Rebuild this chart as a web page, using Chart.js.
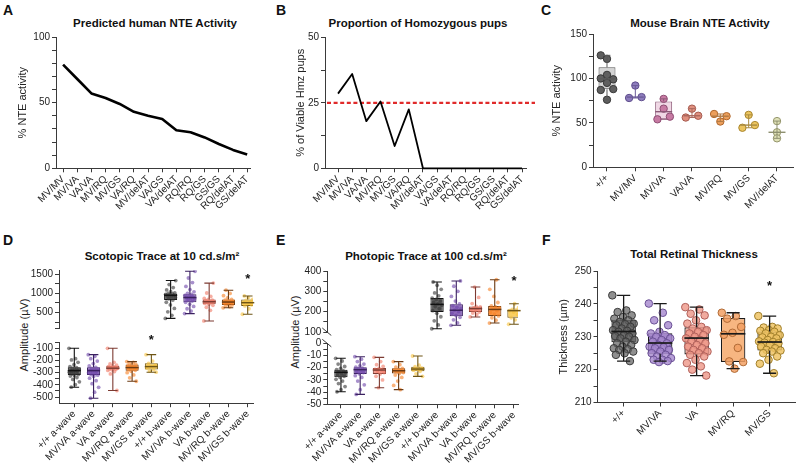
<!DOCTYPE html>
<html>
<head>
<meta charset="utf-8">
<script src="https://cdn.jsdelivr.net/npm/chart.js@4.4.1/dist/chart.umd.min.js"></script>
<style>
  body { margin: 0; background: #fff; font-family: "Liberation Sans", Arial, Helvetica, sans-serif; color: #111; }
  #fig { position: relative; width: 800px; height: 467px; overflow: hidden; }
  #fig canvas { position: absolute; }
  .lt { position: absolute; font-weight: bold; font-size: 14px; line-height: 14px; }
  .tt { position: absolute; font-weight: bold; font-size: 11.5px; line-height: 11.5px; white-space: nowrap; transform: translateX(-50%); }
  .yt { position: absolute; font-size: 11px; white-space: nowrap; transform: translate(-50%, -50%) rotate(-90deg); color: #222; }
</style>
</head>
<body>
<div id="fig">
  <div class="lt" style="left:3px;top:3px">A</div>
  <div class="lt" style="left:276px;top:3px">B</div>
  <div class="lt" style="left:541px;top:3px">C</div>
  <div class="lt" style="left:3px;top:233px">D</div>
  <div class="lt" style="left:276px;top:233px">E</div>
  <div class="lt" style="left:542px;top:233px">F</div>

  <div class="tt" style="left:155px;top:18px">Predicted human NTE Activity</div>
  <div class="tt" style="left:418px;top:18px">Proportion of Homozygous pups</div>
  <div class="tt" style="left:700px;top:18px">Mouse Brain NTE Activity</div>
  <div class="tt" style="left:162px;top:251px">Scotopic Trace at 10 cd.s/m²</div>
  <div class="tt" style="left:426px;top:251px">Photopic Trace at 100 cd.s/m²</div>
  <div class="tt" style="left:694px;top:249px">Total Retinal Thickness</div>

  <div class="yt" style="left:24px;top:335px">Amplitude (µV)</div>
  <div class="yt" style="left:295px;top:332px">Amplitude (µV)</div>
</div>

<script>
// ---------------- data ----------------
var genotypes = ['MV/MV', 'MV/VA', 'VA/VA', 'MV/RQ', 'MV/GS', 'VA/RQ', 'MV/delAT', 'VA/GS', 'VA/delAT', 'RQ/RQ', 'RQ/GS', 'GS/GS', 'RQ/delAT', 'GS/delAT'];
var humanNte = [79, 68, 57, 53.5, 49, 43, 40, 37.5, 29, 27.5, 23.5, 18.5, 14, 10.5];
var hmzPups = [28.5, 36, 18, 25.5, 8.5, 22.5, 0, 0, 0, 0, 0, 0, 0, 0];
var hmzExpected = 25;

var brainGroups = ['+/+', 'MV/MV', 'MV/VA', 'VA/VA', 'MV/RQ', 'MV/GS', 'MV/delAT'];
// [min, q1, median, q3, max]
var brainBox = [[76, 87.7, 99.5, 112.5, 126], [78, 79, 79, 79, 92], [54, 54, 62.6, 74, 77], [56, 58, 58, 58, 66],
  [51.5, 57.5, 57.5, 57.5, 60], [44.5, 47.5, 47.5, 47.5, 59], [32.6, 39.4, 39.4, 39.4, 52]];
var brainPts = [
  [126, 122, 99, 104, 100, 88, 95, 87, 76],
  [78, 92, 79],
  [54, 77, 57, 66],
  [56, 66, 58],
  [60, 51.5, 57.5],
  [44.5, 59, 47.5],
  [52, 39.4, 32.6]
];

var ergGroups = ['+/+ a-wave', 'MV/VA a-wave', 'VA a-wave', 'MV/RQ a-wave', 'MV/GS a-wave',
  '+/+ b-wave', 'MV/VA b-wave', 'VA b-wave', 'MV/RQ b-wave', 'MV/GS b-wave'];

var scotABox = [[-419, -318, -283, -255, -100], [-509, -318, -283, -255, -152], [-446, -274, -263, -244, -100],
  [-370, -283, -258, -233, -209], [-296, -274, -250, -223, -152]];
var scotBBox = [[350, 825, 950, 1000, 1333], [475, 767, 892, 975, 1575], [283, 717, 783, 842, 1267],
  [625, 700, 775, 842, 1083], [458, 675, 758, 842, 933]];
var scotAPts = [
  [-100, -185, -195, -215, -235, -250, -258, -265, -272, -278, -283, -287, -292, -297, -303, -309, -315, -321, -328, -340, -355, -375, -398, -419],
  [-152, -165, -185, -205, -225, -245, -256, -264, -271, -277, -283, -289, -294, -300, -307, -314, -320, -330, -345, -365, -390, -420, -460, -509],
  [-100, -215, -228, -238, -245, -250, -255, -259, -263, -266, -269, -272, -276, -281, -290, -310, -446],
  [-209, -216, -224, -232, -239, -246, -252, -258, -263, -268, -274, -280, -288, -300, -318, -342, -370],
  [-152, -205, -223, -238, -250, -262, -274, -285, -296]
];
var scotBPts = [
  [350, 430, 520, 610, 700, 770, 825, 860, 890, 915, 935, 950, 962, 975, 988, 1000, 1015, 1045, 1090, 1150, 1230, 1333],
  [475, 540, 600, 660, 720, 767, 800, 830, 860, 880, 892, 910, 930, 950, 975, 1000, 1040, 1100, 1180, 1280, 1400, 1575],
  [283, 560, 640, 690, 717, 740, 760, 775, 783, 795, 810, 825, 842, 870, 920, 1010, 1267],
  [625, 650, 680, 700, 722, 745, 762, 775, 790, 805, 822, 842, 880, 940, 1000, 1083],
  [458, 600, 675, 705, 735, 758, 785, 815, 842, 890, 933]
];
var scotStarsA = [[4, -7]];
var scotStarsB = [[9, 1457]];

var photABox = [[-39.7, -27.9, -23.8, -21.6, -12.3], [-41.9, -25.2, -21.6, -19.7, -11], [-36.4, -25.2, -21.9, -20.3, -11.5],
  [-38, -24.7, -22.5, -20.5, -15], [-27.1, -23, -21.1, -19.2, -10.4]];
var photBBox = [[116, 198, 236, 267, 346], [133, 177, 207, 236, 351], [174, 198, 215, 226, 321],
  [144, 179, 211, 228, 357], [138, 170, 205, 211, 239]];
var photAPts = [
  [-12.3, -14.5, -17, -19, -20.5, -21.5, -22.5, -23.3, -24, -25, -26, -27, -28, -29.5, -31, -33, -35.5, -38, -39.7],
  [-11, -13, -15, -17, -18.5, -19.5, -20.3, -21, -21.6, -22.3, -23, -24, -25, -26.5, -28, -31, -34, -38, -41.9],
  [-11.5, -15, -17.5, -19, -20.5, -21.3, -21.9, -22.8, -24, -25.2, -27, -30, -36.4],
  [-15, -17.5, -19.5, -20.5, -21.3, -22, -22.5, -23.2, -24, -24.7, -26, -28, -31, -34.5, -38],
  [-10.4, -18, -19.2, -20.3, -21.1, -22, -23, -25, -27.1]
];
var photBPts = [
  [116, 135, 155, 175, 192, 205, 215, 225, 232, 238, 245, 252, 260, 267, 278, 292, 310, 330, 346],
  [133, 145, 160, 172, 182, 192, 200, 207, 214, 222, 230, 238, 252, 275, 300, 325, 351],
  [174, 185, 193, 198, 204, 210, 215, 219, 223, 226, 240, 270, 321],
  [144, 158, 170, 179, 188, 197, 205, 211, 218, 224, 228, 245, 275, 310, 357],
  [138, 160, 170, 185, 198, 205, 209, 211, 220, 239]
];
var photStarsB = [[9, 367]];

var thickGroups = ['+/+', 'MV/VA', 'VA', 'MV/RQ', 'MV/GS'];
var thickBox = [[222.6, 228.3, 231.6, 235.2, 242.6], [222.6, 224.8, 228.1, 231.1, 240.1], [218.2, 224.6, 229.6, 232.9, 239],
  [220.3, 222.3, 230.9, 235.7, 237.3], [218.9, 225.8, 228.4, 231.6, 236.3]];
var thickPts = [
  [242.6, 238, 237.5, 236.5, 236, 235.5, 235, 234.5, 234, 233.8, 233.5, 233, 232.5, 232, 231.8, 231.5, 231, 230.5, 230.2, 230, 229.5, 229, 228.5, 228, 227.5, 227, 226.5, 226.2, 226, 225.5, 225, 224.5, 222.6],
  [240.1, 237.3, 235, 233.5, 231.5, 231, 230.5, 230, 229.5, 229, 228.5, 228, 227.5, 227, 226.8, 226.5, 226, 225.5, 225, 224.5, 224, 223.5, 223, 223, 222.6, 222.3],
  [239, 238.3, 237, 236.5, 235, 234, 233, 232.5, 232, 231.5, 231, 230.5, 230, 229.5, 229, 228.6, 228, 227.5, 227, 226.5, 226, 225.5, 225, 224.5, 224, 223, 222, 221, 220, 218.2],
  [237.3, 236.3, 235.5, 233, 231.2, 230.6, 226.6, 222.5, 222.3, 220.3],
  [236.3, 233, 232.8, 232.5, 232, 231.8, 231.5, 231, 230.5, 230, 229.8, 229.5, 229, 228.6, 228.4, 228.2, 228, 227.5, 227, 226.5, 226, 225.8, 225.5, 225, 224, 223, 221.8, 218.9]
];
var thickStars = [[4, 246.4]];

// ---------------- look ----------------
var FONT = '"Liberation Sans", Arial, Helvetica, sans-serif';
var AX = '#3a3a3a';
Chart.defaults.font.family = FONT;
Chart.defaults.font.size = 10;
Chart.defaults.color = '#222';

var palERG = [
  {box: 'rgba(80,80,80,0.9)', line: '#111', pt: 'rgba(55,55,55,0.6)'},
  {box: 'rgba(125,85,175,0.85)', line: '#3b2160', pt: 'rgba(110,70,170,0.6)'},
  {box: 'rgba(242,140,125,0.85)', line: '#7d3b32', pt: 'rgba(240,120,100,0.6)'},
  {box: 'rgba(247,138,50,0.9)', line: '#6b3a12', pt: 'rgba(247,128,35,0.6)'},
  {box: 'rgba(250,202,80,0.9)', line: '#6e5414', pt: 'rgba(248,195,60,0.6)'}
];
var palBrain = [
  {box: 'rgba(205,205,205,0.85)', line: '#5a5a5a', pt: '#5f5f5f', ptEdge: '#383838'},
  {box: 'rgba(255,255,255,0)', line: '#6c5c98', pt: '#8d7cbc', ptEdge: '#5e4d8c'},
  {box: 'rgba(238,212,226,0.9)', line: '#8c5a78', pt: '#c77aa3', ptEdge: '#8e4e73'},
  {box: 'rgba(255,255,255,0)', line: '#a9675c', pt: '#e0907f', ptEdge: '#a55a4f'},
  {box: 'rgba(255,255,255,0)', line: '#b07a45', pt: '#ec9f5c', ptEdge: '#b0672c'},
  {box: 'rgba(255,255,255,0)', line: '#a88a40', pt: '#ebc45e', ptEdge: '#a9852c'},
  {box: 'rgba(255,255,255,0)', line: '#8e9070', pt: '#e0e2b8', ptEdge: '#93946a'}
];
var palThick = [
  {box: 'rgba(125,125,125,0.85)', line: '#1a1a1a', pt: 'rgba(95,95,95,0.7)', ptEdge: '#3a3a3a'},
  {box: 'rgba(160,135,200,0.9)', line: '#1a1a1a', pt: 'rgba(165,135,205,0.8)', ptEdge: '#6a5095'},
  {box: 'rgba(242,170,155,0.9)', line: '#1a1a1a', pt: 'rgba(238,150,135,0.8)', ptEdge: '#b0605a'},
  {box: 'rgba(247,178,122,0.95)', line: '#1a1a1a', pt: 'rgba(242,160,100,0.85)', ptEdge: '#b06a35'},
  {box: 'rgba(245,208,125,0.9)', line: '#1a1a1a', pt: 'rgba(238,195,100,0.85)', ptEdge: '#a07f2a'}
];
// column pattern for the few points of panel C
var brainCols = [[-1, 0, 1, 0, -1, 1, 0, -1, 0], [-1, 0, 1], [-1, 0, 1, 0], [-1, 0, 1], [-1, 0, 1], [-1, 0, 1], [0, 0, 0]];

function range(a, b, s) {
  var out = [];
  for (var v = a; v <= b + 1e-9; v += s) out.push(Math.round(v * 1000) / 1000);
  return out;
}
function golden(j) { return ((j * 0.618034) % 1) - 0.5; }

var fig = document.getElementById('fig');
function canvasAt(box) {
  var c = document.createElement('canvas');
  c.width = box[2]; c.height = box[3];
  c.style.left = box[0] + 'px'; c.style.top = box[1] + 'px';
  fig.appendChild(c);
  return c;
}

// plot area placement inside the canvas
function frame(box, area, titleX, noX) {
  var padLeft = titleX ? titleX - box[0] - 6.6 : 0;
  var xH = box[1] + box[3] - area.b;
  return {
    padding: {left: padLeft, top: area.t - box[1], right: box[0] + box[2] - area.r, bottom: noX ? xH : 0},
    yW: area.l - box[0] - padLeft,
    xH: xH
  };
}

function yAxis(fr, min, max, tickVals, labelVals, title) {
  return {
    type: 'linear', min: min, max: max,
    afterBuildTicks: function (s) { s.ticks = tickVals.map(function (v) { return {value: v}; }); },
    afterFit: function (s) { s.width = fr.yW; s.paddingTop = 0; s.paddingBottom = 0; },
    ticks: {callback: function (v) { return labelVals.indexOf(v) >= 0 ? String(v) : ''; }, padding: 2, autoSkip: false},
    grid: {drawOnChartArea: false, tickLength: 4, color: AX},
    border: {color: AX},
    title: {display: !!title, text: title || '', padding: 0, font: {size: 11}}
  };
}

function xAxis(fr, min, max, labels, show) {
  return {
    type: 'linear', min: min, max: max, display: show, offset: false,
    afterBuildTicks: function (s) { s.ticks = labels.map(function (l, i) { return {value: i}; }); },
    afterFit: function (s) { if (show) s.height = fr.xH; s.paddingLeft = 0; s.paddingRight = 0; },
    ticks: {callback: function (v) { return labels[v]; }, autoSkip: false, minRotation: 45, maxRotation: 45, padding: 1},
    grid: {drawOnChartArea: false, offset: false, tickLength: 4, color: AX},
    border: {color: AX}
  };
}

// whiskers, medians, significance stars, axis break marks
var boxPlot = {
  id: 'boxPlot',
  afterDatasetsDraw: function (chart, args, o) {
    var ctx = chart.ctx, x = chart.scales.x, y = chart.scales.y, a = chart.chartArea;
    var unit = x.getPixelForValue(1) - x.getPixelForValue(0);
    ctx.save();
    (o.stats || []).forEach(function (s, i) {
      var cx = x.getPixelForValue(o.xs[i]);
      var p = s.map(function (v) { return y.getPixelForValue(v); });
      var c = unit * o.cap / 2, m = unit * o.med / 2;
      ctx.strokeStyle = o.colors[i];
      ctx.lineWidth = o.lw;
      ctx.beginPath();
      ctx.moveTo(cx, p[4]); ctx.lineTo(cx, p[3]);
      ctx.moveTo(cx, p[1]); ctx.lineTo(cx, p[0]);
      ctx.moveTo(cx - c, p[4]); ctx.lineTo(cx + c, p[4]);
      ctx.moveTo(cx - c, p[0]); ctx.lineTo(cx + c, p[0]);
      ctx.stroke();
      ctx.lineWidth = o.lw + 0.4;
      ctx.beginPath(); ctx.moveTo(cx - m, p[2]); ctx.lineTo(cx + m, p[2]); ctx.stroke();
    });
    ctx.fillStyle = '#111';
    ctx.font = 'bold 13px ' + FONT;
    ctx.textAlign = 'center';
    ctx.textBaseline = 'alphabetic';
    (o.stars || []).forEach(function (st) {
      ctx.fillText('*', x.getPixelForValue(st[0]), y.getPixelForValue(st[1]) + 7.5);
    });
    if (o.brk) {
      var by = o.brk === 'top' ? a.top : a.bottom;
      ctx.strokeStyle = AX; ctx.lineWidth = 1;
      ctx.beginPath(); ctx.moveTo(a.left - 5, by - 4); ctx.lineTo(a.left + 4, by + 3.5); ctx.stroke();
    }
    ctx.restore();
  }
};

var refLine = {
  id: 'refLine',
  beforeDatasetsDraw: function (chart, args, o) {
    if (o.value === undefined) return;
    var ctx = chart.ctx, a = chart.chartArea, py = chart.scales.y.getPixelForValue(o.value);
    ctx.save();
    ctx.strokeStyle = '#e02a2a'; ctx.lineWidth = 2.2; ctx.setLineDash([4, 2.6]);
    ctx.beginPath(); ctx.moveTo(a.left + 2, py); ctx.lineTo(a.right + 9, py); ctx.stroke();
    ctx.restore();
  }
};

function baseOptions(fr) {
  return {
    responsive: false, animation: false, events: [],
    layout: {padding: fr.padding},
    plugins: {legend: {display: false}, tooltip: {enabled: false}}
  };
}

function lineChart(box, area, titleX, values, lw, xr, yr, yTicks, yLabels, yTitle, ref) {
  var fr = frame(box, area, titleX, false);
  var opts = baseOptions(fr);
  opts.plugins.refLine = ref === undefined ? {} : {value: ref};
  opts.scales = {x: xAxis(fr, xr[0], xr[1], genotypes, true), y: yAxis(fr, yr[0], yr[1], yTicks, yLabels, yTitle)};
  return new Chart(canvasAt(box), {
    type: 'line',
    data: {datasets: [{
      data: values.map(function (v, i) { return {x: i, y: v}; }),
      borderColor: '#000', borderWidth: lw, pointRadius: 0, tension: 0, borderJoinStyle: 'round', clip: false
    }]},
    options: opts,
    plugins: [refLine]
  });
}

function boxChart(box, area, o) {
  var fr = frame(box, area, o.titleX, !o.showX);
  var datasets = [{
    type: 'bar', order: 10,
    data: o.stats.map(function (s, i) { return {x: o.xs[i], y: [s[1], s[3]]}; }),
    backgroundColor: o.pal.map(function (p) { return p.box; }),
    borderColor: o.pal.map(function (p) { return p.line; }),
    borderWidth: o.boxLw, borderSkipped: false,
    barPercentage: 1, categoryPercentage: o.boxW
  }];
  o.pts.forEach(function (vals, i) {
    datasets.push({
      type: 'scatter', order: 1,
      data: vals.map(function (v, j) { return {x: o.xs[i] + o.jit(i, j), y: v}; }),
      backgroundColor: o.pal[i].pt, borderColor: o.pal[i].ptEdge || 'rgba(0,0,0,0)',
      borderWidth: o.ptLw, pointRadius: o.r
    });
  });
  var opts = baseOptions(fr);
  opts.plugins.boxPlot = {
    stats: o.stats, xs: o.xs, cap: o.cap, med: o.boxW, lw: o.lw, stars: o.stars, brk: o.brk,
    colors: o.pal.map(function (p) { return o.whisk || p.line; })
  };
  opts.scales = {
    x: xAxis(fr, o.xr[0], o.xr[1], o.labels, o.showX),
    y: yAxis(fr, o.yr[0], o.yr[1], o.yTicks, o.yLabels, o.yTitle)
  };
  return new Chart(canvasAt(box), {type: 'bar', data: {datasets: datasets}, options: opts, plugins: [boxPlot]});
}

// ---------------- panels ----------------
// A
lineChart([0, 30, 265, 200], {l: 56, t: 37, r: 250, b: 168.3}, 23, humanNte, 2.6,
  [-0.5, 13.2], [0, 100], range(0, 100, 10), [0, 50, 100], '% NTE activity');

// B
lineChart([265, 30, 270, 200], {l: 325, t: 37.3, r: 526, b: 168.3}, 301, hmzPups, 1.8,
  [-0.92, 13.28], [0, 50], range(0, 50, 12.5), [0, 25, 50], '% of Viable Hmz pups', hmzExpected);

// C
boxChart([530, 26, 270, 204], {l: 593, t: 34, r: 793, b: 167.3}, {
  titleX: 557, showX: true, labels: brainGroups, xs: [0, 1, 2, 3, 4, 5, 6], xr: [-0.494, 6.565],
  stats: brainBox, pts: brainPts, pal: palBrain,
  jit: function (i, j) { return brainCols[i][j] * 0.22; },
  boxW: 0.6, cap: 0.24, lw: 1, boxLw: 1, r: 3.7, ptLw: 1,
  yr: [0, 150], yTicks: range(0, 150, 25), yLabels: [0, 50, 100, 150], yTitle: '% NTE activity'
});

// D (broken axis: b-wave segment on top, a-wave segment below)
var ergSpread = function (i, j) { return golden(j) * 0.55; };
boxChart([0, 262, 265, 70], {l: 59, t: 270.3, r: 253, b: 330.3}, {
  showX: false, labels: ergGroups, xs: [5, 6, 7, 8, 9], xr: [-0.794, 9.275],
  stats: scotBBox, pts: scotBPts, pal: palERG, jit: ergSpread, stars: scotStarsB,
  boxW: 0.68, cap: 0.5, lw: 1.1, boxLw: 1, r: 1.9, ptLw: 0,
  yr: [100, 1600], yTicks: [100, 250, 500, 750, 1000, 1250, 1500], yLabels: [500, 1000, 1500]
});
boxChart([0, 334, 265, 133], {l: 59, t: 342.2, r: 253, b: 403.2}, {
  showX: true, labels: ergGroups, xs: [0, 1, 2, 3, 4], xr: [-0.794, 9.275],
  stats: scotABox, pts: scotAPts, pal: palERG, jit: ergSpread, stars: scotStarsA,
  boxW: 0.68, cap: 0.5, lw: 1.1, boxLw: 1, r: 1.9, ptLw: 0,
  yr: [-550, -50], yTicks: range(-500, -50, 50), yLabels: [-100, -200, -300, -400, -500]
});

// E
boxChart([265, 262, 270, 74], {l: 327.3, t: 271, r: 518, b: 332}, {
  showX: false, labels: ergGroups, xs: [5, 6, 7, 8, 9], xr: [-0.71, 9.21],
  stats: photBBox, pts: photBPts, pal: palERG, jit: ergSpread, stars: photStarsB, brk: 'bottom',
  boxW: 0.69, cap: 0.5, lw: 1.1, boxLw: 1, r: 1.9, ptLw: 0,
  yr: [100, 400], yTicks: range(100, 400, 50), yLabels: [100, 200, 300, 400]
});
boxChart([265, 337, 270, 130], {l: 327.3, t: 343.3, r: 518, b: 404.3}, {
  showX: true, labels: ergGroups, xs: [0, 1, 2, 3, 4], xr: [-0.71, 9.21],
  stats: photABox, pts: photAPts, pal: palERG, jit: ergSpread, brk: 'top',
  boxW: 0.69, cap: 0.5, lw: 1.1, boxLw: 1, r: 1.9, ptLw: 0,
  yr: [-50, 0], yTicks: range(-50, 0, 5), yLabels: [0, -10, -20, -30, -40, -50]
});

// F
boxChart([530, 262, 270, 205], {l: 597.5, t: 271, r: 800, b: 402.5}, {
  titleX: 564, showX: true, labels: thickGroups, xs: [0, 1, 2, 3, 4], xr: [-0.716, 4.695],
  stats: thickBox, pts: thickPts, pal: palThick, whisk: '#1a1a1a', stars: thickStars,
  jit: function (i, j) { return golden(j) * 0.62; },
  boxW: 0.67, cap: 0.36, lw: 1.3, boxLw: 1.2, r: 3.8, ptLw: 1,
  yr: [210, 250], yTicks: range(210, 250, 5), yLabels: [210, 220, 230, 240, 250], yTitle: 'Thickness (µm)'
});
</script>
</body>
</html>
